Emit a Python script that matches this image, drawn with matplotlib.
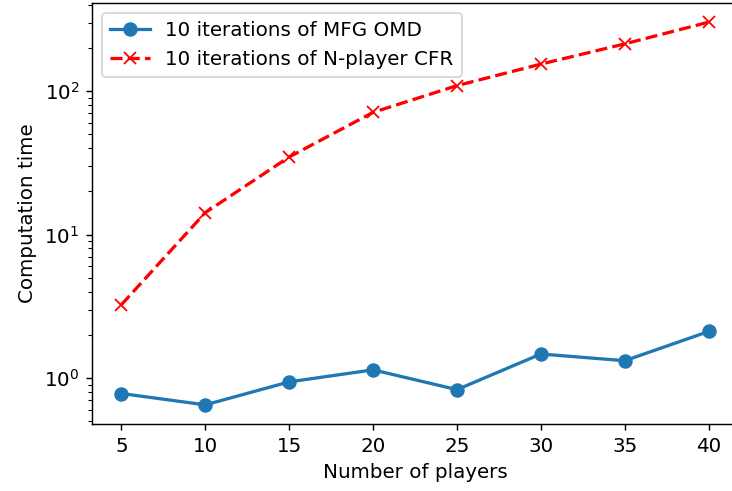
import matplotlib
matplotlib.use("Agg")
import matplotlib.pyplot as plt

# number of players
n_players = [5, 10, 15, 20, 25, 30, 35, 40]
# computation time for 10 iterations
mfg_omd_time = [0.78, 0.65, 0.94, 1.14, 0.83, 1.47, 1.32, 2.11]
cfr_time = [3.24, 14.2, 34.7, 71.0, 109, 154, 213, 302]

DPI = 130
plt.rcParams['font.size'] = 11
fig = plt.figure(figsize=(732 / DPI, 491 / DPI), dpi=DPI)
ax = fig.add_axes([92 / 732, 1 - 424 / 491, 646 / 732, 421 / 491])

ax.plot(n_players, mfg_omd_time, marker='o', lw=1.8, ms=7, label='10 iterations of MFG OMD')
ax.plot(n_players, cfr_time, 'r--', marker='x', lw=1.8, ms=7, label='10 iterations of N-player CFR')
ax.set_yscale('log')
ax.set_xticks(n_players)
ax.set_xlabel('Number of players')
ax.set_ylabel('Computation time')
ax.legend(loc='upper left')

fig.savefig('out.png', dpi=DPI)
